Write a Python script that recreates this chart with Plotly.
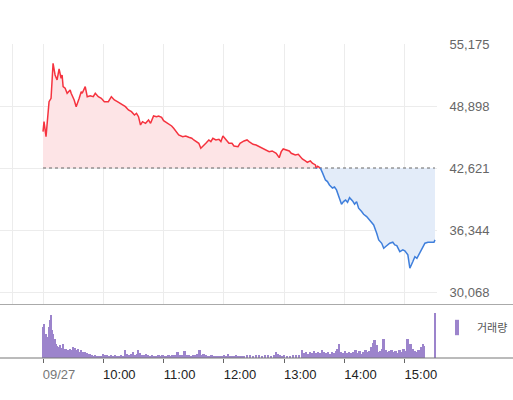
import pandas as pd
import plotly.graph_objects as go

# ---------------- data ----------------
base_price = 42621  # previous close (dotted reference line)
day_start = "2023-09-27 09:00"

price_min = [0, 1, 3, 6, 8, 10, 12, 14, 16, 18, 19, 20, 22, 24, 27, 28, 31, 33, 36, 38,
             39, 42, 44, 47, 50, 52, 55, 58, 61, 65, 68, 71, 74, 77, 80, 82, 85, 88, 91, 93,
             95, 97, 99, 102, 105, 107, 110, 113, 115, 118, 120, 123, 125, 128, 130, 133, 135, 139, 142, 145,
             148, 150, 153, 155, 157, 159, 162, 165, 167, 169, 172, 175, 177, 179, 182, 185, 188, 190, 194, 196,
             200, 203, 205, 209, 212, 215, 219, 222, 225, 228, 232, 235, 237, 239, 243, 245, 247, 251, 254, 256,
             258, 261, 263, 266, 268, 271, 272, 273, 274, 276, 278, 281, 283, 285, 288, 290, 292, 294, 297, 299,
             301, 303, 305, 308, 310, 312, 314, 317, 319, 322, 324, 326, 329, 332, 334, 337, 339, 341, 343, 345,
             348, 350, 352, 355, 358, 360, 363, 365, 368, 370, 372, 375, 377, 380, 383, 387, 389, 390]
price_val = [46300, 47312, 45794, 49336, 49680, 53222, 52038, 51532, 52645, 51704, 52038, 50854, 50692, 50186, 50520, 50186, 49508, 48830, 49680, 50348,
             50186, 50854, 49842, 49943, 49842, 50186, 49842, 49680, 49336, 49336, 49842, 49508, 49336, 49174, 49002, 48830, 48496, 48324, 47990, 48160,
             47818, 46978, 47312, 47146, 47484, 47146, 47888, 47818, 47888, 47750, 47413, 47210, 47079, 46877, 46644, 46300, 45966, 45797, 45865, 45730,
             45629, 45460, 45293, 45125, 44620, 44789, 45125, 45460, 45293, 45632, 45460, 45527, 45293, 45865, 45527, 45125, 45125, 44852, 44782, 45125,
             45359, 45460, 45293, 45024, 44954, 44782, 44549, 44450, 44276, 44350, 44114, 43669, 44276, 44549, 44450, 44350, 44114, 43942, 44010, 43770,
             43537, 43340, 43202, 43340, 43100, 42930, 42560, 42800, 42760, 42600, 42150, 41412, 41250, 40906, 40600, 40700, 40400, 39722, 38953, 39220,
             39388, 39150, 39621, 39290, 38953, 39220, 38548, 38210, 37940, 37700, 37465, 37260, 36857, 36017, 35340, 35000, 34500, 34670, 34834, 35004,
             35107, 34834, 34770, 34156, 34330, 34230, 33822, 32477, 33150, 33650, 33480, 34156, 34430, 35004, 35107, 35107, 35107, 35340]

vol_min = [0, 1, 2, 3, 4, 5, 6, 7, 8, 9, 10, 12, 13, 14, 15, 16, 17, 18, 19, 20,
           21, 22, 23, 24, 25, 26, 27, 28, 29, 30, 31, 32, 33, 34, 35, 36, 37, 38, 39, 40,
           41, 42, 43, 44, 45, 46, 47, 48, 49, 50, 52, 54, 56, 58, 60, 62, 64, 66, 68, 70,
           72, 74, 76, 78, 80, 82, 84, 86, 88, 90, 92, 94, 95, 97, 99, 101, 103, 105, 107, 109,
           111, 113, 115, 117, 119, 121, 123, 125, 127, 129, 131, 134, 136, 138, 141, 143, 145, 148, 150, 152,
           154, 156, 158, 160, 162, 164, 166, 168, 170, 172, 174, 176, 178, 180, 182, 184, 186, 188, 190, 192,
           194, 196, 198, 200, 203, 206, 209, 212, 215, 218, 221, 224, 227, 230, 232, 234, 236, 238, 240, 243,
           246, 249, 252, 255, 258, 260, 262, 264, 266, 268, 270, 272, 274, 276, 278, 280, 282, 284, 286, 288,
           290, 292, 293, 295, 297, 299, 301, 303, 305, 307, 309, 311, 313, 315, 317, 319, 321, 323, 325, 327,
           329, 330, 332, 334, 336, 338, 339, 341, 343, 345, 347, 349, 351, 353, 355, 357, 359, 361, 363, 364,
           366, 368, 370, 372, 374, 376, 378, 379, 390]
vol_val = [31, 34, 23, 24, 20, 21, 31, 38, 43, 28, 24, 19, 14, 12, 11, 10, 13, 9, 10, 14,
           9, 8, 9, 7, 8, 7, 9, 8, 7, 11, 9, 10, 8, 7, 9, 6, 6, 8, 5, 6,
           4, 6, 4, 5, 4, 3, 4, 3, 3, 2, 3, 2, 2, 2, 4, 3, 3, 2, 3, 2,
           3, 2, 2, 3, 2, 8, 4, 3, 4, 6, 3, 4, 8, 5, 3, 3, 4, 3, 2, 3,
           2, 2, 3, 2, 3, 2, 2, 3, 2, 3, 3, 6, 3, 3, 7, 3, 3, 2, 3, 3,
           4, 8, 3, 4, 3, 2, 2, 3, 2, 2, 2, 2, 2, 3, 2, 4, 2, 2, 2, 3,
           2, 2, 2, 2, 3, 3, 2, 3, 3, 2, 3, 3, 2, 3, 6, 4, 3, 2, 3, 2,
           2, 3, 3, 3, 8, 5, 6, 4, 6, 5, 7, 5, 6, 5, 8, 6, 5, 6, 4, 6,
           5, 7, 9, 14, 6, 5, 7, 5, 6, 5, 6, 8, 5, 7, 4, 6, 8, 6, 7, 11,
           15, 18, 13, 6, 7, 9, 19, 8, 6, 7, 8, 6, 7, 5, 8, 6, 9, 7, 19, 13,
           14, 9, 7, 6, 8, 11, 14, 12, 45]

y_ticks = [30068, 36344, 42621, 48898, 55175]
x_tick_times = ["09:00", "10:00", "11:00", "12:00", "13:00", "14:00", "15:00"]
x_tick_labels = ["09/27", "10:00", "11:00", "12:00", "13:00", "14:00", "15:00"]
grid_times = ["08:30"] + x_tick_times
volume_name = "거래량"

# ---------------- build ----------------
t0 = pd.Timestamp(day_start)
def to_time(mins):
    return [t0 + pd.Timedelta(minutes=float(m)) for m in mins]

# insert crossing points with the reference line so the colours split cleanly
xs, vs = [], []
for i, (m, v) in enumerate(zip(price_min, price_val)):
    if i > 0:
        pm, pv = price_min[i - 1], price_val[i - 1]
        if (pv - base_price) * (v - base_price) < 0:
            mc = pm + (base_price - pv) * (m - pm) / (v - pv)
            xs.append(mc); vs.append(base_price)
    xs.append(m); vs.append(v)

tx = to_time(xs)
upper = [max(v, base_price) for v in vs]
lower = [min(v, base_price) for v in vs]
red_line = [v if v >= base_price else None for v in vs]
blue_line = [v if v <= base_price else None for v in vs]
base_line = [base_price] * len(vs)

RED = "#f5333f"
BLUE = "#3f7fdc"
PURPLE = "#9c84cc"

fig = go.Figure()
fig.add_trace(go.Scatter(x=tx, y=base_line, mode="lines", line=dict(width=0), showlegend=False, hoverinfo="skip"))
fig.add_trace(go.Scatter(x=tx, y=upper, mode="lines", line=dict(width=0), fill="tonexty",
                         fillcolor="#fde4e6", showlegend=False, hoverinfo="skip"))
fig.add_trace(go.Scatter(x=tx, y=base_line, mode="lines", line=dict(width=0), showlegend=False, hoverinfo="skip"))
fig.add_trace(go.Scatter(x=tx, y=lower, mode="lines", line=dict(width=0), fill="tonexty",
                         fillcolor="#e3ecf9", showlegend=False, hoverinfo="skip"))
fig.add_trace(go.Scatter(x=[tx[0], tx[-1]], y=[base_price, base_price], mode="lines",
                         line=dict(color="#666666", width=1, dash="dot"), showlegend=False, hoverinfo="skip"))
fig.add_trace(go.Scatter(x=tx, y=red_line, mode="lines", line=dict(color=RED, width=1.5),
                         connectgaps=False, showlegend=False))
fig.add_trace(go.Scatter(x=tx, y=blue_line, mode="lines", line=dict(color=BLUE, width=1.5),
                         connectgaps=False, showlegend=False))

fig.add_trace(go.Bar(x=to_time(vol_min), y=vol_val, width=110000, marker=dict(color=PURPLE, line=dict(width=0)),
                     xaxis="x2", yaxis="y2", showlegend=False, name=volume_name))
fig.add_trace(go.Scatter(x=[None], y=[None], mode="markers", xaxis="x2", yaxis="y2",
                         marker=dict(symbol="line-ns", size=11, color=PURPLE, line=dict(color=PURPLE, width=4)),
                         name=volume_name, showlegend=True))

x_range = [t0 - pd.Timedelta(minutes=42.8), t0 + pd.Timedelta(minutes=392.0)]
dom = [0, 437 / 513]
day = day_start[:10]

fig.update_layout(
    width=513, height=400,
    margin=dict(l=0, r=0, t=0, b=0, autoexpand=False),
    paper_bgcolor="white", plot_bgcolor="white",
    font=dict(family="Liberation Sans, Arial, Noto Sans CJK KR", size=13, color="#333"),
    hovermode=False,
    bargap=0,
    xaxis=dict(domain=dom, range=x_range, anchor="y", automargin=False,
               tickvals=[pd.Timestamp(f"{day} {g}") for g in grid_times],
               showticklabels=False, showgrid=True, gridcolor="#ececec", gridwidth=1,
               zeroline=False, showline=False, ticks=""),
    yaxis=dict(domain=[1 - 304 / 400, 1 - 44 / 400], range=[28853, 55175], side="right", anchor="x",
               automargin=False,
               tickvals=y_ticks, tickformat=",d", showgrid=True, gridcolor="#ececec",
               zeroline=False, showline=False, ticks="outside", ticklen=9, tickcolor="rgba(0,0,0,0)",
               tickfont=dict(size=13, color="#666")),
    xaxis2=dict(domain=dom, range=x_range, anchor="y2", automargin=False,
                tickvals=[pd.Timestamp(f"{day} {g}") for g in x_tick_times],
                ticktext=[f"<span style='color:#777'>{l}</span>" if i == 0 else l for i, l in enumerate(x_tick_labels)],
                ticks="outside", ticklen=4, tickcolor="#666", showgrid=False, zeroline=False, showline=False,
                ticklabelshift=16, tickfont=dict(size=13, color="#222")),
    yaxis2=dict(domain=[1 - 358 / 400, 1 - 305 / 400], range=[0, 53], anchor="x2", automargin=False,
                showticklabels=False, showgrid=False, zeroline=False, showline=False),
    legend=dict(x=437 / 513, y=1 - 313 / 400, xanchor="left", yanchor="top",
                font=dict(size=11, color="#555", family="Noto Sans CJK KR"),
                bgcolor="rgba(0,0,0,0)", itemwidth=30, tracegroupgap=0),
    shapes=[
        dict(type="line", xref="paper", yref="paper", x0=0, x1=1, y0=1 - 304.5 / 400, y1=1 - 304.5 / 400,
             line=dict(color="#aaaaaa", width=1)),
        dict(type="line", xref="paper", yref="paper", x0=0, x1=1, y0=1 - 358 / 400, y1=1 - 358 / 400,
             line=dict(color="#777777", width=1)),
    ],
)

fig.write_html("out.html", config={"displayModeBar": False},
               post_script="document.body.style.margin='0';")
